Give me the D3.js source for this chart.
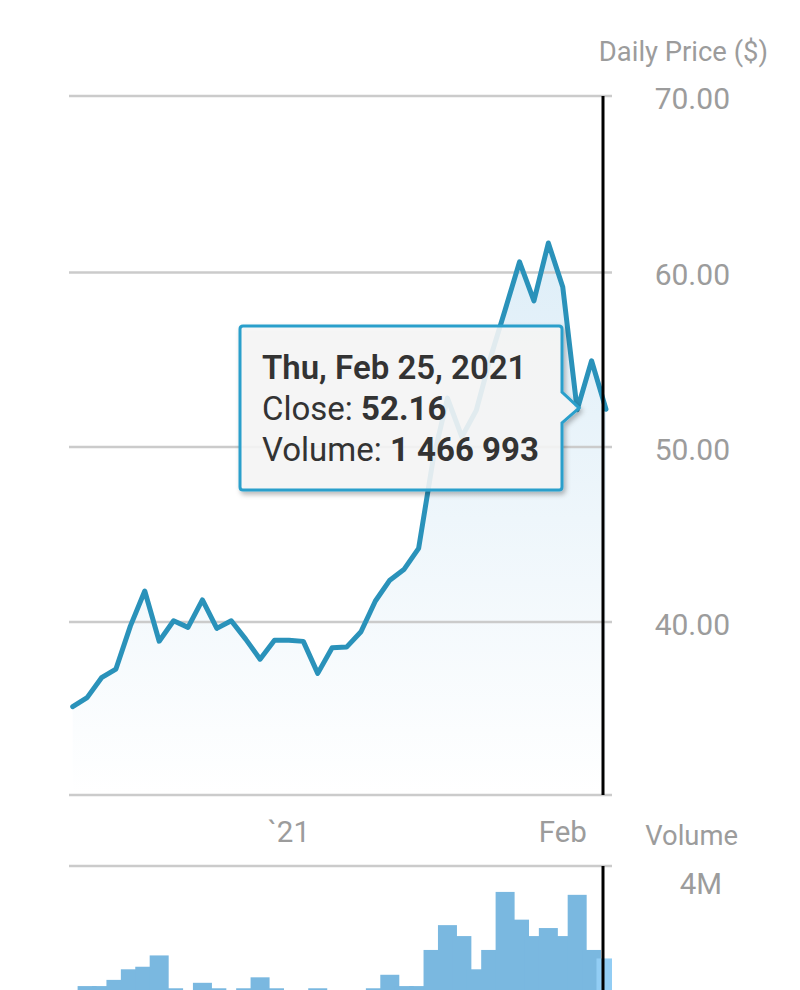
<!DOCTYPE html>
<html>
<head>
<meta charset="utf-8">
<script src="https://cdn.jsdelivr.net/npm/d3@7"></script>
<style>
  html, body { margin: 0; padding: 0; background: #fff; overflow: hidden; }
  text { font-family: Roboto, sans-serif; }
</style>
</head>
<body>
<svg id="chart" width="800" height="990"></svg>
<script>
// values, one entry per session
var closes = [35.11, 35.63, 36.78, 37.28, 39.76, 41.77, 38.89, 40.07, 39.69, 41.26,
  39.63, 40.07, 39.01, 37.85, 38.95, 38.95, 38.88, 37.03, 38.51, 38.55,
  39.44, 41.2, 42.39, 43.02, 44.21, 49.26, 52.8, 50.58, 52.1, 55.16,
  57.85, 60.6, 58.37, 61.67, 59.17, 52.13, 54.94, 52.16];
var volumes = [0.5, 0.71, 0.71, 0.88, 1.17, 1.24, 1.55, 0.65, 0.5, 0.8,
  0.65, 0.5, 0.65, 0.95, 0.65, 0.5, 0.5, 0.65, 0.5, 0.5,
  0.5, 0.65, 1.02, 0.71, 0.71, 1.7, 2.38, 2.08, 1.17, 1.7,
  3.29, 2.53, 2.08, 2.3, 2.08, 3.21, 1.7, 1.466993];

var priceTicks = [40, 50, 60, 70];
var priceGrid = [30, 40, 50, 60, 70];
var volumeTicks = [4];
var xTickSessions = [15, 34];
var xTickLabels = ["`21", "Feb"];
var tooltipLines = [
  [["Thu, Feb 25, 2021", 600]],
  [["Close: ", 400], ["52.16", 700]],
  [["Volume: ", 400], ["1 466 993", 700]]
];

var LINE_COLOR = "#2a92ba";
var BAR_COLOR = "#7ab8e0";
var HOVER_BAR_COLOR = "#92cdf4";
var GRID_COLOR = "#cbcbcb";
var LABEL_COLOR = "#9c9c9c";

var svg = d3.select("#chart");
var sessions = d3.range(closes.length);
var lastSession = sessions[sessions.length - 1];

var x = d3.scaleLinear().domain([0, lastSession]).range([72.7, 606]);
// the gridlines in the picture are not quite evenly spaced
var y = d3.scaleLinear().domain(priceGrid).range([795, 622, 447, 272.5, 96]);
var yVol = d3.scaleLinear().domain([0, 4]).range([1012, 866]);

var gridLeft = 69, gridRight = 612, crossX = 603, barWidth = 19;

var defs = svg.append("defs");
var grad = defs.append("linearGradient")
  .attr("id", "areaFill")
  .attr("gradientUnits", "userSpaceOnUse")
  .attr("x1", 0).attr("x2", 0)
  .attr("y1", y(d3.max(closes))).attr("y2", y(30));
grad.append("stop").attr("offset", 0).attr("stop-color", "#deeef8");
grad.append("stop").attr("offset", 0.5).attr("stop-color", "#eef6fb");
grad.append("stop").attr("offset", 1).attr("stop-color", "#ffffff");

defs.append("clipPath").attr("id", "volClip")
  .append("rect")
  .attr("x", gridLeft).attr("y", 866)
  .attr("width", gridRight - gridLeft).attr("height", 124);

var shadow = defs.append("filter").attr("id", "tipShadow")
  .attr("x", "-10%").attr("y", "-10%").attr("width", "120%").attr("height", "125%");
shadow.append("feDropShadow")
  .attr("dx", 2).attr("dy", 3).attr("stdDeviation", 2.5)
  .attr("flood-color", "#000").attr("flood-opacity", 0.3);

// price area goes under the gridlines
var area = d3.area()
  .x(function(d) { return x(d); })
  .y0(y(30))
  .y1(function(d) { return y(closes[d]); });

var line = d3.line()
  .x(function(d) { return x(d); })
  .y(function(d) { return y(closes[d]); });

svg.append("path")
  .datum(sessions)
  .attr("d", area)
  .attr("fill", "url(#areaFill)");

// gridlines
svg.append("g").selectAll("line")
  .data(priceGrid)
  .join("line")
  .attr("x1", gridLeft).attr("x2", gridRight)
  .attr("y1", function(d) { return y(d); })
  .attr("y2", function(d) { return y(d); })
  .attr("stroke", GRID_COLOR)
  .attr("stroke-width", 2.5);

svg.append("g").selectAll("line")
  .data(volumeTicks)
  .join("line")
  .attr("x1", gridLeft).attr("x2", gridRight)
  .attr("y1", function(d) { return yVol(d); })
  .attr("y2", function(d) { return yVol(d); })
  .attr("stroke", GRID_COLOR)
  .attr("stroke-width", 2.5);

svg.append("path")
  .datum(sessions)
  .attr("d", line)
  .attr("fill", "none")
  .attr("stroke", LINE_COLOR)
  .attr("stroke-width", 5)
  .attr("stroke-linejoin", "round")
  .attr("stroke-linecap", "round");

// volume bars
svg.append("g")
  .attr("clip-path", "url(#volClip)")
  .selectAll("rect")
  .data(sessions)
  .join("rect")
  .attr("x", function(d) { return x(d) - barWidth / 2; })
  .attr("width", barWidth)
  .attr("y", function(d) { return yVol(volumes[d]); })
  .attr("height", function(d) { return yVol(0) - yVol(volumes[d]); })
  .attr("fill", function(d) { return d === lastSession ? HOVER_BAR_COLOR : BAR_COLOR; });

// crosshair, both panes
svg.append("line")
  .attr("x1", crossX).attr("x2", crossX)
  .attr("y1", y(70)).attr("y2", y(30))
  .attr("stroke", "#000").attr("stroke-width", 3);
svg.append("line")
  .attr("x1", crossX).attr("x2", crossX)
  .attr("y1", yVol(4)).attr("y2", 990)
  .attr("stroke", "#000").attr("stroke-width", 3);

// axis labels
svg.append("g").selectAll("text")
  .data(priceTicks)
  .join("text")
  .attr("x", 730)
  .attr("y", function(d) { return y(d) + 12.5; })
  .attr("text-anchor", "end")
  .attr("font-size", 30)
  .attr("fill", LABEL_COLOR)
  .text(function(d) { return d3.format(".2f")(d); });

svg.append("g").selectAll("text")
  .data(xTickSessions)
  .join("text")
  .attr("x", function(d) { return x(d); })
  .attr("y", 842)
  .attr("text-anchor", "middle")
  .attr("font-size", 29.5)
  .attr("fill", LABEL_COLOR)
  .text(function(d, i) { return xTickLabels[i]; });

svg.append("g").selectAll("text")
  .data(volumeTicks)
  .join("text")
  .attr("x", 722)
  .attr("y", function(d) { return yVol(d) + 28; })
  .attr("text-anchor", "end")
  .attr("font-size", 29.5)
  .attr("fill", LABEL_COLOR)
  .text(function(d) { return d + "M"; });

svg.append("text")
  .attr("x", 768).attr("y", 61)
  .attr("text-anchor", "end")
  .attr("font-size", 27.4)
  .attr("fill", LABEL_COLOR)
  .text("Daily Price ($)");

svg.append("text")
  .attr("x", 738).attr("y", 845)
  .attr("text-anchor", "end")
  .attr("font-size", 27.4)
  .attr("fill", LABEL_COLOR)
  .text("Volume");

// tooltip box with its notch
var tipPath = d3.path();
tipPath.moveTo(243, 326);
tipPath.lineTo(559, 326);
tipPath.quadraticCurveTo(562, 326, 562, 329);
tipPath.lineTo(562, 392);
tipPath.lineTo(579, 408);
tipPath.lineTo(562, 423);
tipPath.lineTo(562, 487);
tipPath.quadraticCurveTo(562, 490, 559, 490);
tipPath.lineTo(243, 490);
tipPath.quadraticCurveTo(240, 490, 240, 487);
tipPath.lineTo(240, 329);
tipPath.quadraticCurveTo(240, 326, 243, 326);
tipPath.closePath();

svg.append("path")
  .attr("d", tipPath.toString())
  .attr("fill", "#f8f8f8")
  .attr("fill-opacity", 0.87)
  .attr("stroke", "#2a9fcb")
  .attr("stroke-width", 3)
  .attr("filter", "url(#tipShadow)");

var tipText = svg.append("text")
  .attr("font-size", 33)
  .attr("fill", "#333");

tooltipLines.forEach(function(parts, i) {
  var row = tipText.append("tspan")
    .attr("x", 262)
    .attr("y", 379 + i * 41);
  parts.forEach(function(p) {
    row.append("tspan")
      .attr("font-weight", p[1])
      .text(p[0]);
  });
});
</script>
</body>
</html>
